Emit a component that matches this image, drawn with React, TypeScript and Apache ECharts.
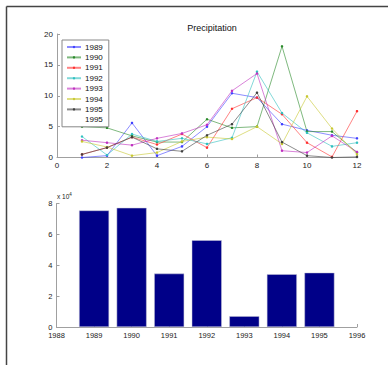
import React, { useEffect, useRef } from "react";
import * as echarts from "echarts";

const months = [1, 2, 3, 4, 5, 6, 7, 8, 9, 10, 11, 12];
const seriesNames = ["1989", "1990", "1991", "1992", "1993", "1994", "1995"];
const p1989 = [0, 0.3, 5.6, 0.3, 1.8, 5.0, 10.4, 9.7, 5.4, 4.4, 3.6, 3.1];
const p1990 = [5.0, 4.8, 3.5, 2.5, 2.5, 6.2, 4.8, 5.0, 18.0, 4.2, 4.2, 0.8];
const p1991 = [0.5, 1.6, 3.3, 2.1, 3.8, 1.6, 7.9, 9.7, 7.0, 2.4, 0.1, 7.5];
const p1992 = [3.4, 0.4, 3.8, 2.6, 3.1, 2.2, 3.2, 13.9, 7.2, 4.0, 1.8, 2.4];
const p1993 = [2.8, 2.4, 2.0, 3.1, 3.9, 5.3, 10.8, 13.6, 1.1, 0.8, 3.5, 0.9];
const p1994 = [2.6, 1.7, 0.3, 0.8, 2.6, 3.3, 3.0, 5.0, 2.2, 9.9, 4.7, 0.5];
const p1995 = [0.5, 1.6, 3.3, 1.4, 1.0, 3.6, 5.4, 10.5, 2.5, 0.3, 0, 0.1];
const precip = [p1989, p1990, p1991, p1992, p1993, p1994, p1995];
const lineColors = ["#4040ff", "#2a8a2a", "#ff3030", "#30c0c0", "#c030c0", "#c8c830", "#404040"];

const barYears = [1989, 1990, 1991, 1992, 1993, 1994, 1995];
const barValues = [7.55, 7.72, 3.46, 5.62, 0.7, 3.42, 3.52];

const FONT = "Liberation Sans";

export default function App() {
  const ref = useRef<HTMLDivElement>(null);
  useEffect(() => {
    if (!ref.current) return;
    const chart = echarts.init(ref.current, null, { renderer: "svg" });
    const axisLine = { show: true, lineStyle: { color: "#a0a0a0", width: 1 } };
    const axisTick = { show: true, inside: true, length: 3, lineStyle: { color: "#a0a0a0" } };
    const axisLabel = { color: "#222", fontSize: 8, fontFamily: FONT, formatter: (v: number) => String(v) };

    const lineSeries: any[] = seriesNames.map((n, i) => ({
      name: n,
      type: "line",
      xAxisIndex: 0,
      yAxisIndex: 0,
      data: months.map((m, j) => [m, precip[i][j]]),
      symbol: "circle",
      symbolSize: 2.5,
      showSymbol: true,
      lineStyle: { width: 1, color: lineColors[i], opacity: 0.6 },
      itemStyle: { color: lineColors[i] },
      z: 2 + i,
    }));
    lineSeries.push({
      name: "1995 ",
      type: "line",
      xAxisIndex: 0,
      yAxisIndex: 0,
      data: [],
      symbol: "none",
      lineStyle: { opacity: 0 },
      itemStyle: { opacity: 0 },
    });

    chart.setOption({
      animation: false,
      backgroundColor: "#fff",
      title: {
        text: "Precipitation",
        left: 207,
        top: 18,
        textAlign: "center",
        textStyle: { fontSize: 9, fontWeight: "normal", color: "#111", fontFamily: FONT },
      },
      legend: {
        show: true,
        left: 62,
        top: 40,
        orient: "vertical",
        itemWidth: 14,
        itemHeight: 3,
        itemGap: 2.4,
        padding: [3, 6, 3, 4],
        borderColor: "#888",
        borderWidth: 1,
        backgroundColor: "#fff",
        formatter: (name: string) => name.trim(),
        textStyle: { fontSize: 8, color: "#111", fontFamily: FONT, padding: [0, 0, 0, -1] },
        data: [...seriesNames, "1995 "],
      },
      grid: [
        { left: 57, top: 34, width: 300, height: 123.5 },
        { left: 56.5, top: 203.5, width: 300.5, height: 123.5 },
      ],
      xAxis: [
        {
          gridIndex: 0,
          type: "value",
          min: 0,
          max: 12,
          interval: 2,
          axisLine,
          axisTick,
          axisLabel: { ...axisLabel, margin: 4 },
          splitLine: { show: false },
        },
        {
          gridIndex: 1,
          type: "value",
          min: 1988,
          max: 1996,
          interval: 1,
          axisLine,
          axisTick,
          axisLabel: { ...axisLabel, margin: 4, fontSize: 7.5 },
          splitLine: { show: false },
        },
      ],
      yAxis: [
        {
          gridIndex: 0,
          type: "value",
          min: 0,
          max: 20,
          interval: 5,
          axisLine,
          axisTick,
          axisLabel: { ...axisLabel, margin: 4 },
          splitLine: { show: false },
        },
        {
          gridIndex: 1,
          type: "value",
          min: 0,
          max: 8,
          interval: 2,
          axisLine,
          axisTick,
          axisLabel: { ...axisLabel, margin: 4, fontSize: 7.5 },
          splitLine: { show: false },
        },
      ],
      series: [
        ...lineSeries,
        {
          name: "bars",
          type: "bar",
          xAxisIndex: 1,
          yAxisIndex: 1,
          data: barYears.map((y, i) => [y, barValues[i]]),
          barWidth: 30,
          itemStyle: { color: "#000088", borderColor: "#c8c8d8", borderWidth: 0.5 },
        },
      ],
      graphic: [
        {
          type: "line",
          shape: { x1: 6.5, y1: 6.5, x2: 388, y2: 6.5 },
          style: { stroke: "#444", lineWidth: 1.5 },
        },
        {
          type: "line",
          shape: { x1: 6.5, y1: 6.5, x2: 6.5, y2: 365 },
          style: { stroke: "#444", lineWidth: 1.5 },
        },
        {
          type: "text",
          left: 57,
          top: 192,
          style: {
            text: "x 10{sup|4}",
            fontSize: 6.5,
            fill: "#222",
            fontFamily: FONT,
            rich: { sup: { fontSize: 4.5, verticalAlign: "top", padding: [0, 0, 4, 0] } },
          },
        },
      ],
    });
    return () => chart.dispose();
  }, []);
  return (
    <div
      ref={ref}
      style={{ position: "fixed", left: 0, top: 0, width: 388, height: 365, background: "#fff" }}
    />
  );
}
